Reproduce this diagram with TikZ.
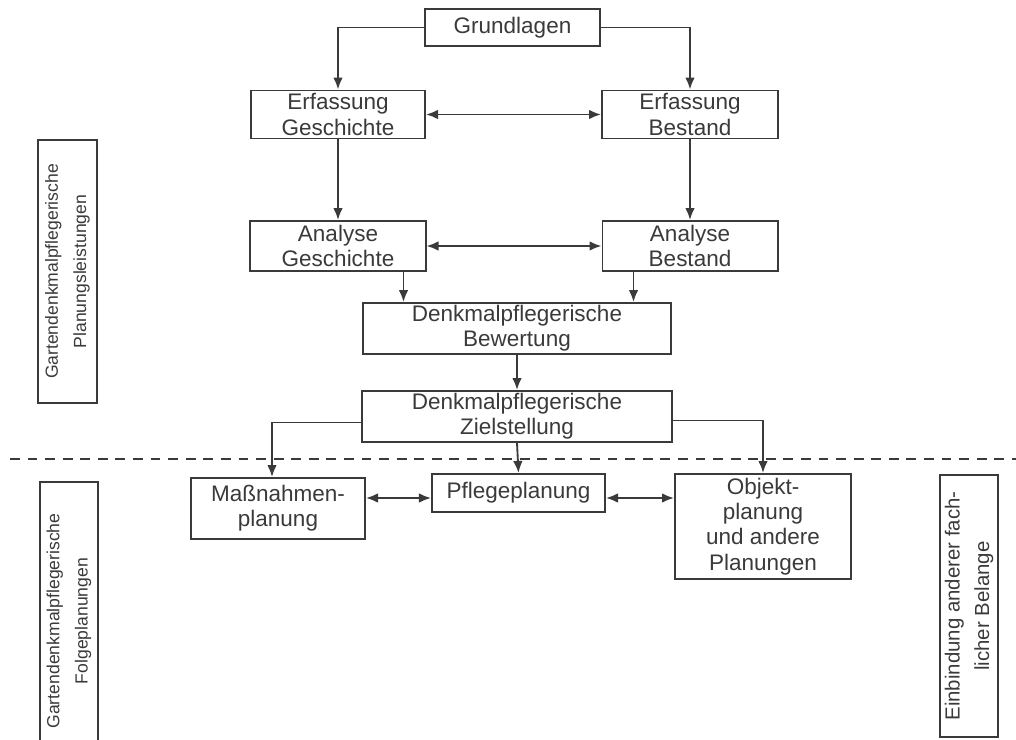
\documentclass[tikz,border=0pt]{standalone}
\usepackage{fontspec}
\setmainfont{Liberation Sans}
\usepackage{tikz}
\usetikzlibrary{arrows.meta,positioning}
\definecolor{ink}{HTML}{3A3A3A}

\begin{document}
\begin{tikzpicture}[x=0.025cm, y=-0.025cm, line width=1.3pt, draw=ink, text=ink,
    box/.style={draw, line width=1.4pt, align=center, inner sep=0pt,
      font=\fontsize{16}{18}\selectfont},
    sidebox/.style={draw, line width=1.4pt, align=center, inner sep=0pt, rotate=90},
    arr/.style={-{Latex[length=3mm,width=2.4mm]}},
    arrtwo/.style={{Latex[length=3mm,width=2.4mm]}-{Latex[length=3mm,width=2.4mm]}}]
   \useasboundingbox (0,0) rectangle (1016,740);
   \begin{scope}[every node/.style={box}]
    \node (grund) at (512.5,27.5) [minimum width=4.375cm, minimum height=0.925cm] {Grundlagen};
    \node (eg) at (338,114.5) [minimum width=4.35cm, minimum height=1.2cm] {Erfassung\\Geschichte};
    \node (eb) at (690,114.5) [minimum width=4.4cm, minimum height=1.2cm] {Erfassung\\Bestand};
    \node (ag) at (338,246) [minimum width=4.375cm, minimum height=1.25cm] {Analyse\\Geschichte};
    \node (ab) at (690,246) [minimum width=4.375cm, minimum height=1.25cm] {Analyse\\Bestand};
    \node (bew) at (517,328.5) [minimum width=7.7cm, minimum height=1.275cm] {Denkmalpflegerische\\Bewertung};
    \node (ziel) at (517,416.5) [minimum width=7.725cm, minimum height=1.275cm] {Denkmalpflegerische\\Zielstellung};
    \node (mass) at (278,508.5) [minimum width=4.35cm, minimum height=1.525cm] {Maßnahmen-\\planung};
    \node (pflege) at (518.5,493) [minimum width=4.325cm, minimum height=0.95cm] {Pflegeplanung};
    \node (objekt) at (763,526.5) [minimum width=4.4cm, minimum height=2.625cm] {Objekt-\\planung\\und andere\\Planungen};
   \end{scope}
   \begin{scope}[every node/.style={sidebox}]
    \node (leist) at (67.5,271.5) [minimum width=6.575cm, minimum height=1.475cm, font=\fontsize{12.5}{20}\selectfont] {Gartendenkmalpflegerische\\Planungsleistungen};
    \node (folge) at (69,621) [minimum width=6.95cm, minimum height=1.45cm, font=\fontsize{12.5}{20}\selectfont] {Gartendenkmalpflegerische\\Folgeplanungen};
    \node (belange) at (969,606) [minimum width=6.55cm, minimum height=1.45cm, font=\fontsize{14.5}{21}\selectfont] {Einbindung anderer fach-\\licher Belange};
   \end{scope}
   \coordinate (dl) at (10,459);
   \coordinate (dr) at (1016,459);
   \draw[dash pattern=on 7pt off 5.5pt] (dl) -- (dr);
   \begin{scope}[every path/.style={arr}]
    \draw (grund.west) -| (eg.north);
    \draw (grund.east) -| (eb.north);
    \draw (eg.south) -- (ag.north);
    \draw (eb.south) -- (ab.north);
    \draw ([xshift=-0.575cm]ag.south east) -- ([xshift=-0.575cm]ag.south east |- bew.north);
    \draw ([xshift=0.8cm]ab.south west) -- ([xshift=0.8cm]ab.south west |- bew.north);
    \draw (bew.south) -- (ziel.north);
    \draw ([yshift=-0.15cm]ziel.west) -| ([xshift=-0.15cm]mass.north);
    \draw (ziel.south) -- (pflege.north);
    \draw ([yshift=-0.1cm]ziel.east) -| (objekt.north);
   \end{scope}
   \draw[arrtwo] (eg.east) -- (eb.west);
   \draw[arrtwo] (ag.east) -- (ab.west);
   \draw[arrtwo] ([yshift=-0.125cm]pflege.west -| mass.east) -- ([yshift=-0.125cm]pflege.west);
   \draw[arrtwo] ([yshift=-0.125cm]pflege.east) -- ([yshift=-0.125cm]pflege.east -| objekt.west);
\end{tikzpicture}
\end{document}
